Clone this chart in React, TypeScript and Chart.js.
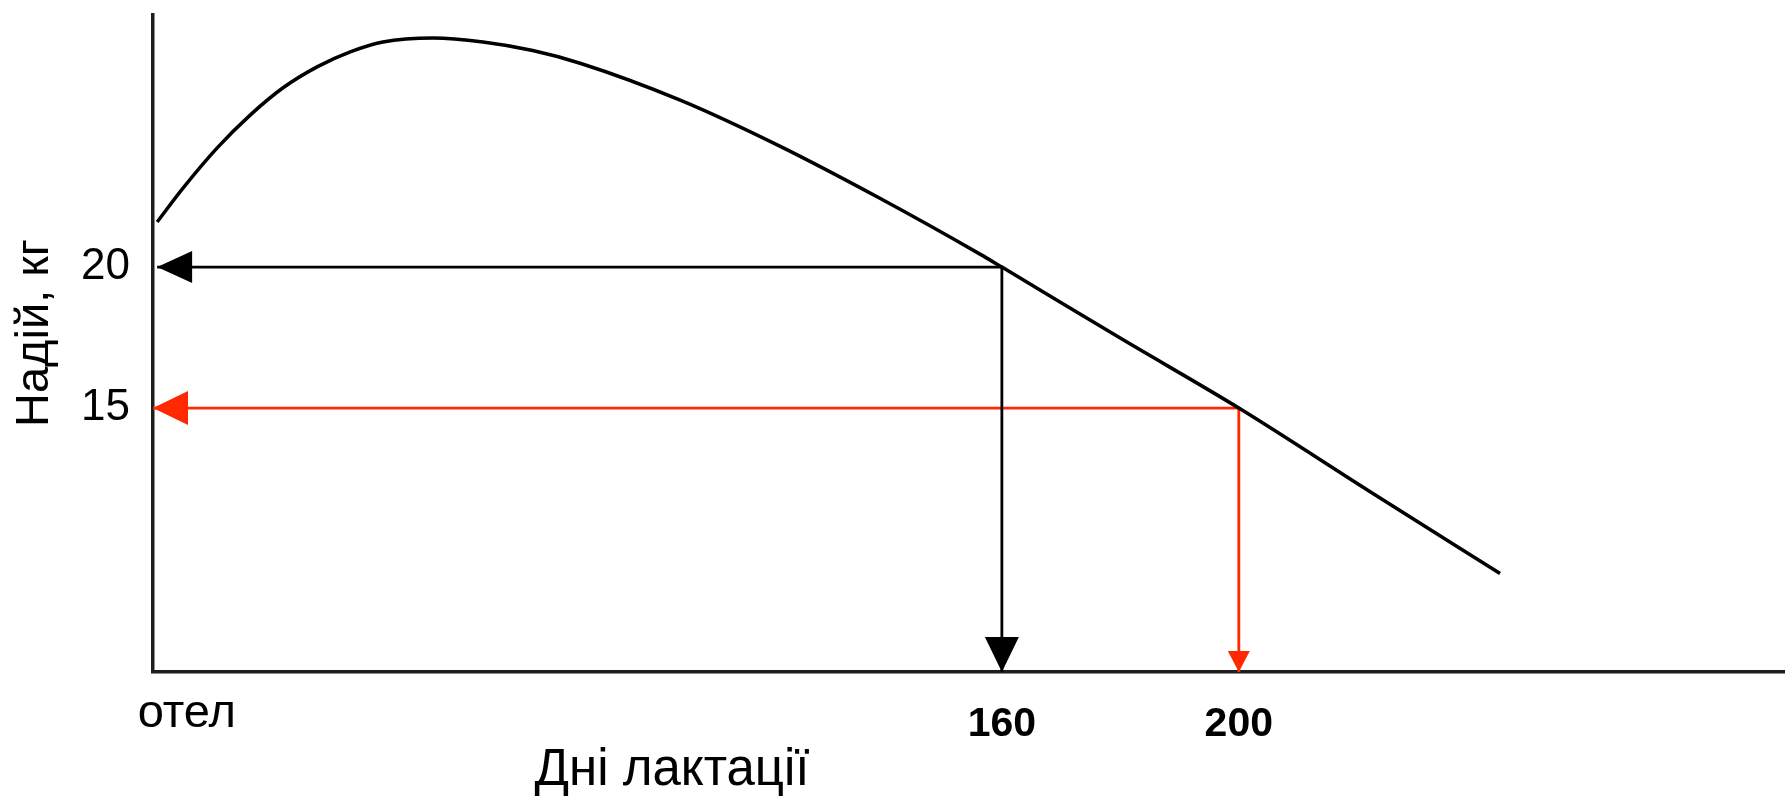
import React, { useEffect, useRef } from 'react';
import { Chart, registerables } from 'chart.js';

Chart.register(...registerables);

// Lactation curve (days of lactation, kg of milk)
const curveDays = [17.4, 21.8, 27.5, 33.1, 38.6, 44.4, 50.0, 55.5, 64.0, 72.4, 80.8, 88.8, 105.7, 122.5, 139.4, 156.3, 160, 179.9, 200, 222.1, 244.1];
const curveYield = [21.6, 22.81, 24.22, 25.39, 26.35, 27.1, 27.63, 27.98, 28.12, 27.98, 27.68, 27.23, 25.92, 24.29, 22.44, 20.46, 20, 17.49, 15, 12.04, 9.13];

// Axis ranges
const xAxisMin = 16.7;
const xAxisMax = 292.2;
const yAxisMin = 5.64;
const yAxisMax = 28.94;

// Tick labels
const yTickValues = [15, 20];
const xTickValues = [22.4, 160, 200];
const xTickLabels = ['отел', '160', '200'];

// Reading arrows (day -> kg)
const blackArrowDays = [17.4, 160, 160];
const blackArrowYield = [20, 20, yAxisMin];
const redArrowDays = [xAxisMin, 200, 200];
const redArrowYield = [15, 15, yAxisMin];

const xTitle = 'Дні лактації';
const yTitle = 'Надій, кг';

const FONT = '"Liberation Sans", Arial, sans-serif';
const RED = 'rgb(255, 40, 0)';

const toPoints = (xs: number[], ys: number[]) => xs.map((x, i) => ({ x, y: ys[i] }));

const arrowPlugin = {
  id: 'arrowHeads',
  afterDatasetsDraw(chart: any) {
    const ctx = chart.ctx;
    chart.data.datasets.forEach((ds: any, i: number) => {
      if (!ds.arrowHeads) return;
      const pts = chart.getDatasetMeta(i).data;
      const n = pts.length;
      const head = (tip: any, from: any, len: number, w: number) => {
        const dx = tip.x - from.x;
        const dy = tip.y - from.y;
        const d = Math.hypot(dx, dy) || 1;
        const ux = dx / d;
        const uy = dy / d;
        const bx = tip.x - ux * len;
        const by = tip.y - uy * len;
        ctx.beginPath();
        ctx.moveTo(tip.x, tip.y);
        ctx.lineTo(bx - uy * w / 2, by + ux * w / 2);
        ctx.lineTo(bx + uy * w / 2, by - ux * w / 2);
        ctx.closePath();
        ctx.fill();
      };
      ctx.save();
      ctx.fillStyle = ds.borderColor;
      const a = ds.arrowHeads;
      head(pts[0], pts[1], a.startLen, a.startWidth);
      head(pts[n - 1], pts[n - 2], a.endLen, a.endWidth);
      ctx.restore();
    });
  },
};

const titlesPlugin = {
  id: 'axisTitles',
  afterDraw(chart: any) {
    const { ctx, chartArea } = chart;
    ctx.save();
    ctx.fillStyle = '#000';
    ctx.textAlign = 'center';
    ctx.textBaseline = 'alphabetic';
    ctx.font = `51px ${FONT}`;
    ctx.fillText(xTitle, chartArea.left + 519, 785);
    ctx.translate(48, chartArea.top + 318);
    ctx.rotate(-Math.PI / 2);
    ctx.font = `47px ${FONT}`;
    ctx.fillText(yTitle, 0, 0);
    ctx.restore();
  },
};

export default function App() {
  const ref = useRef<HTMLCanvasElement | null>(null);

  useEffect(() => {
    if (!ref.current) return;
    const chart = new Chart(ref.current, {
      type: 'line',
      data: {
        datasets: [
          {
            data: toPoints(curveDays, curveYield),
            borderColor: '#000',
            borderWidth: 3.5,
            pointRadius: 0,
            cubicInterpolationMode: 'monotone',
            fill: false,
          },
          {
            data: toPoints(blackArrowDays, blackArrowYield),
            borderColor: '#000',
            borderWidth: 2.8,
            pointRadius: 0,
            tension: 0,
            fill: false,
            arrowHeads: { startLen: 35, startWidth: 32, endLen: 35, endWidth: 34 },
          } as any,
          {
            data: toPoints(redArrowDays, redArrowYield),
            borderColor: RED,
            borderWidth: 2.8,
            pointRadius: 0,
            tension: 0,
            fill: false,
            arrowHeads: { startLen: 35, startWidth: 34, endLen: 21, endWidth: 22 },
          } as any,
        ],
      },
      options: {
        responsive: false,
        animation: false,
        clip: false as any,
        layout: { padding: { top: 15, right: 0, left: 0, bottom: 0 } },
        plugins: { legend: { display: false }, tooltip: { enabled: false } },
        scales: {
          x: {
            type: 'linear',
            min: xAxisMin,
            max: xAxisMax,
            grid: { display: false, drawTicks: false },
            border: { display: true, color: '#1e1e1e', width: 3.5 },
            afterFit: (s: any) => {
              s.height = 796 - 15 - 657;
              s.paddingLeft = 0;
              s.paddingRight = 0;
            },
            afterBuildTicks: (s: any) => { s.ticks = xTickValues.map((v) => ({ value: v })); },
            ticks: {
              autoSkip: false,
              maxRotation: 0,
              color: '#000',
              padding: 28,
              callback: (_v: any, i: number) => xTickLabels[i],
              font: (c: any) =>
                c.index === 0
                  ? { family: FONT, size: 47, weight: 'normal', lineHeight: 0.6 }
                  : { family: FONT, size: 41, weight: 'bold', lineHeight: 1.2 },
            },
          },
          y: {
            type: 'linear',
            min: yAxisMin,
            max: yAxisMax,
            grid: { display: false, drawTicks: false },
            border: { display: true, color: '#1e1e1e', width: 3.5 },
            afterFit: (s: any) => {
              s.width = 153;
              s.paddingTop = 0;
              s.paddingBottom = 0;
            },
            afterBuildTicks: (s: any) => { s.ticks = yTickValues.map((v) => ({ value: v })); },
            ticks: {
              color: '#000',
              padding: 23,
              font: { family: FONT, size: 44 },
              callback: (v: any) => String(v),
            },
          },
        },
      },
      plugins: [arrowPlugin, titlesPlugin],
    } as any);
    return () => chart.destroy();
  }, []);

  return (
    <div style={{ position: 'fixed', left: 0, top: 0, width: 1785, height: 796, background: '#fff' }}>
      <canvas ref={ref} width={1785} height={796} />
    </div>
  );
}
